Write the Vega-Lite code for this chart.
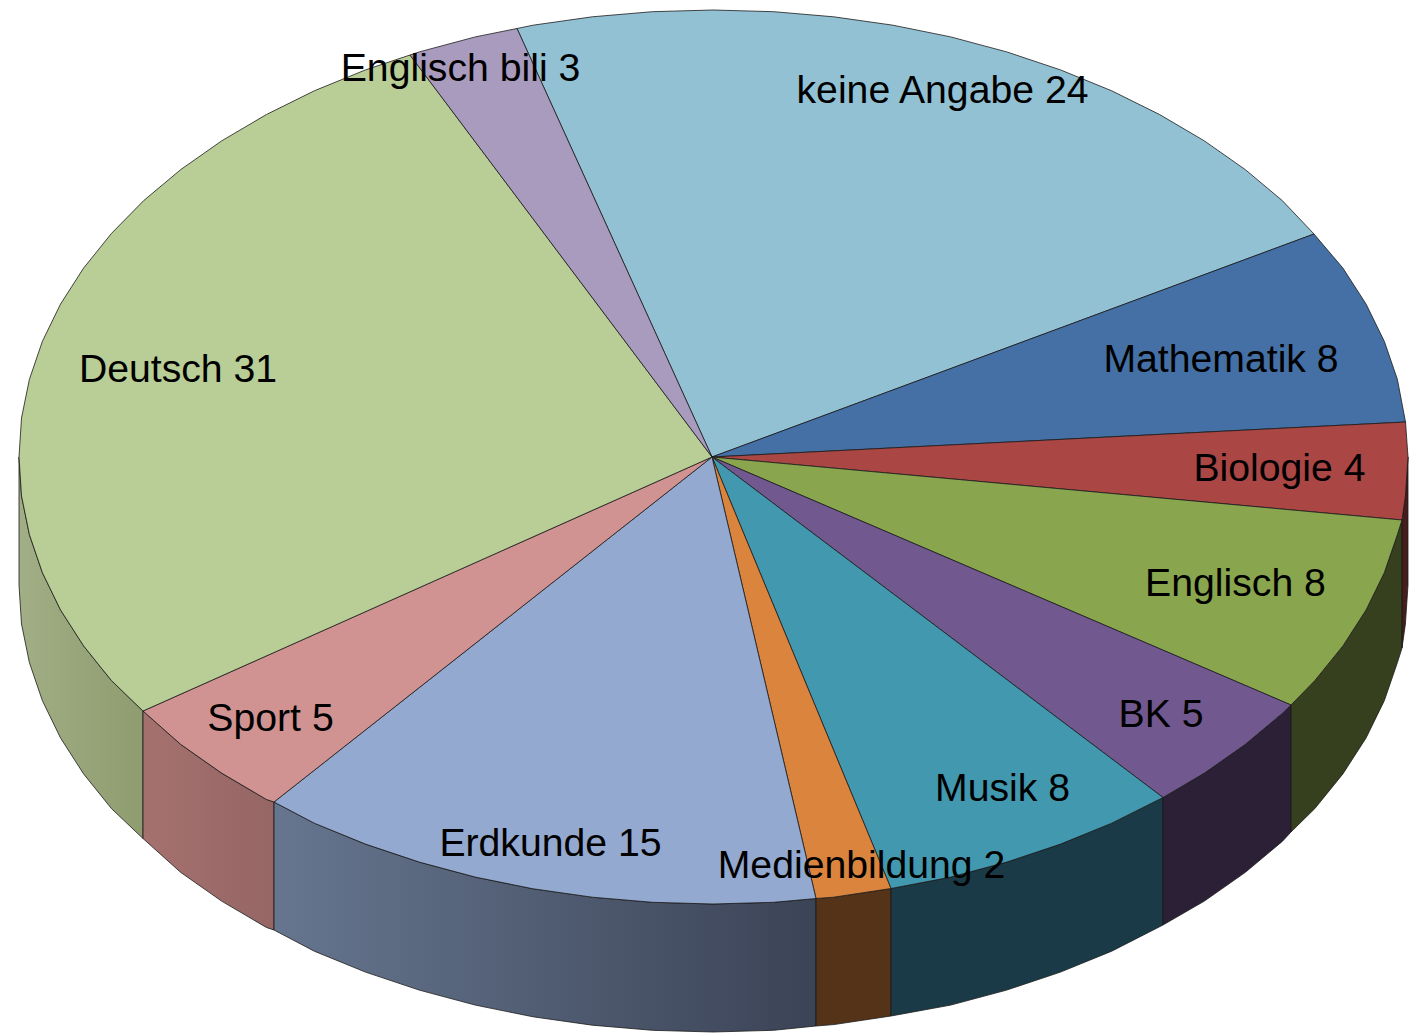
{"$schema":"https://vega.github.io/schema/vega-lite/v6.json","width":1416,"height":1033,"padding":0,"autosize":{"type":"none"},"background":"white","view":{"stroke":null},
"datasets":{
"wall":[
{"s":"Deutsch","x":19,"y":457,"y2":585},{"s":"Deutsch","x":21.5,"y":496,"y2":624},{"s":"Deutsch","x":29.4,"y":534.6,"y2":662.6},{"s":"Deutsch","x":42.4,"y":572.7,"y2":700.7},{"s":"Deutsch","x":60.5,"y":609.9,"y2":737.9},{"s":"Deutsch","x":83.6,"y":645.9,"y2":773.9},{"s":"Deutsch","x":111.4,"y":680.5,"y2":808.5},{"s":"Deutsch","x":143,"y":711,"y2":838.5},
{"s":"Sport","x":143,"y":711,"y2":838.5},{"s":"Sport","x":180.6,"y":744.3,"y2":872.3},{"s":"Sport","x":221.6,"y":773.1,"y2":901.1},{"s":"Sport","x":266.3,"y":799.4,"y2":927.4},{"s":"Sport","x":274,"y":802,"y2":930},
{"s":"Erdkunde","x":274,"y":802,"y2":930},{"s":"Erdkunde","x":314.3,"y":823.2,"y2":951.2},{"s":"Erdkunde","x":365.5,"y":844.1,"y2":972.1},{"s":"Erdkunde","x":419.3,"y":862.1,"y2":990.1},{"s":"Erdkunde","x":475.3,"y":877.1,"y2":1005.1},{"s":"Erdkunde","x":533.1,"y":888.8,"y2":1016.8},{"s":"Erdkunde","x":592.3,"y":897.2,"y2":1025.2},{"s":"Erdkunde","x":652.4,"y":902.3,"y2":1030.3},{"s":"Erdkunde","x":713,"y":904,"y2":1032},{"s":"Erdkunde","x":773.6,"y":902.3,"y2":1030.3},{"s":"Erdkunde","x":816,"y":898.5,"y2":1026},
{"s":"Medienbildung","x":816,"y":898.5,"y2":1026},{"s":"Medienbildung","x":833.7,"y":897.2,"y2":1024.6},{"s":"Medienbildung","x":891,"y":888.5,"y2":1016},
{"s":"Musik","x":891,"y":888.5,"y2":1016},{"s":"Musik","x":950.7,"y":877.1,"y2":1005.1},{"s":"Musik","x":1006.7,"y":862.1,"y2":990.1},{"s":"Musik","x":1060.5,"y":844.1,"y2":972.1},{"s":"Musik","x":1111.7,"y":823.2,"y2":951.2},{"s":"Musik","x":1163,"y":797.5,"y2":925},
{"s":"BK","x":1163,"y":797.5,"y2":925},{"s":"BK","x":1204.4,"y":773.1,"y2":901.1},{"s":"BK","x":1245.4,"y":744.3,"y2":872.3},{"s":"BK","x":1282.3,"y":713.4,"y2":841.4},{"s":"BK","x":1291,"y":705,"y2":832},
{"s":"Englisch","x":1291,"y":705,"y2":832},{"s":"Englisch","x":1314.9,"y":680.5,"y2":808.5},{"s":"Englisch","x":1342.9,"y":645.9,"y2":773.9},{"s":"Englisch","x":1366.1,"y":609.9,"y2":737.9},{"s":"Englisch","x":1384.3,"y":572.7,"y2":700.7},{"s":"Englisch","x":1397.4,"y":534.6,"y2":662.6},{"s":"Englisch","x":1402,"y":520,"y2":648},
{"s":"Biologie","x":1402,"y":520,"y2":648},{"s":"Biologie","x":1405.4,"y":496,"y2":624},{"s":"Biologie","x":1408,"y":457,"y2":585}
],
"top":[
{"s":"keine Angabe","i":0,"x":712,"y":457},{"s":"keine Angabe","i":1,"x":1314,"y":234},{"s":"keine Angabe","i":2,"x":1282.3,"y":200.6},{"s":"keine Angabe","i":3,"x":1245.4,"y":169.7},{"s":"keine Angabe","i":4,"x":1204.4,"y":140.9},{"s":"keine Angabe","i":5,"x":1159.7,"y":114.6},{"s":"keine Angabe","i":6,"x":1111.7,"y":90.8},{"s":"keine Angabe","i":7,"x":1060.5,"y":69.9},{"s":"keine Angabe","i":8,"x":1006.7,"y":51.9},{"s":"keine Angabe","i":9,"x":950.7,"y":36.9},{"s":"keine Angabe","i":10,"x":892.9,"y":25.2},{"s":"keine Angabe","i":11,"x":833.7,"y":16.8},{"s":"keine Angabe","i":12,"x":773.6,"y":11.7},{"s":"keine Angabe","i":13,"x":713,"y":10},{"s":"keine Angabe","i":14,"x":652.4,"y":11.7},{"s":"keine Angabe","i":15,"x":592.3,"y":16.8},{"s":"keine Angabe","i":16,"x":533.1,"y":25.2},{"s":"keine Angabe","i":17,"x":517,"y":28.5},{"s":"keine Angabe","i":18,"x":712,"y":457},
{"s":"Mathematik","i":0,"x":712,"y":457},{"s":"Mathematik","i":1,"x":1405.5,"y":422},{"s":"Mathematik","i":2,"x":1397.4,"y":379.4},{"s":"Mathematik","i":3,"x":1384.3,"y":341.3},{"s":"Mathematik","i":4,"x":1366.1,"y":304.1},{"s":"Mathematik","i":5,"x":1342.9,"y":268.1},{"s":"Mathematik","i":6,"x":1314,"y":234},{"s":"Mathematik","i":7,"x":712,"y":457},
{"s":"Biologie","i":0,"x":712,"y":457},{"s":"Biologie","i":1,"x":1402,"y":520},{"s":"Biologie","i":2,"x":1405.4,"y":496},{"s":"Biologie","i":3,"x":1408,"y":457},{"s":"Biologie","i":4,"x":1405.5,"y":422},{"s":"Biologie","i":5,"x":712,"y":457},
{"s":"Englisch","i":0,"x":712,"y":457},{"s":"Englisch","i":1,"x":1291,"y":705},{"s":"Englisch","i":2,"x":1314.9,"y":680.5},{"s":"Englisch","i":3,"x":1342.9,"y":645.9},{"s":"Englisch","i":4,"x":1366.1,"y":609.9},{"s":"Englisch","i":5,"x":1384.3,"y":572.7},{"s":"Englisch","i":6,"x":1397.4,"y":534.6},{"s":"Englisch","i":7,"x":1402,"y":520},{"s":"Englisch","i":8,"x":712,"y":457},
{"s":"BK","i":0,"x":712,"y":457},{"s":"BK","i":1,"x":1163,"y":797.5},{"s":"BK","i":2,"x":1204.4,"y":773.1},{"s":"BK","i":3,"x":1245.4,"y":744.3},{"s":"BK","i":4,"x":1282.3,"y":713.4},{"s":"BK","i":5,"x":1291,"y":705},{"s":"BK","i":6,"x":712,"y":457},
{"s":"Musik","i":0,"x":712,"y":457},{"s":"Musik","i":1,"x":891,"y":888.5},{"s":"Musik","i":2,"x":950.7,"y":877.1},{"s":"Musik","i":3,"x":1006.7,"y":862.1},{"s":"Musik","i":4,"x":1060.5,"y":844.1},{"s":"Musik","i":5,"x":1111.7,"y":823.2},{"s":"Musik","i":6,"x":1163,"y":797.5},{"s":"Musik","i":7,"x":712,"y":457},
{"s":"Medienbildung","i":0,"x":712,"y":457},{"s":"Medienbildung","i":1,"x":816,"y":898.5},{"s":"Medienbildung","i":2,"x":833.7,"y":897.2},{"s":"Medienbildung","i":3,"x":891,"y":888.5},{"s":"Medienbildung","i":4,"x":712,"y":457},
{"s":"Erdkunde","i":0,"x":712,"y":457},{"s":"Erdkunde","i":1,"x":274,"y":802},{"s":"Erdkunde","i":2,"x":314.3,"y":823.2},{"s":"Erdkunde","i":3,"x":365.5,"y":844.1},{"s":"Erdkunde","i":4,"x":419.3,"y":862.1},{"s":"Erdkunde","i":5,"x":475.3,"y":877.1},{"s":"Erdkunde","i":6,"x":533.1,"y":888.8},{"s":"Erdkunde","i":7,"x":592.3,"y":897.2},{"s":"Erdkunde","i":8,"x":652.4,"y":902.3},{"s":"Erdkunde","i":9,"x":713,"y":904},{"s":"Erdkunde","i":10,"x":773.6,"y":902.3},{"s":"Erdkunde","i":11,"x":816,"y":898.5},{"s":"Erdkunde","i":12,"x":712,"y":457},
{"s":"Sport","i":0,"x":712,"y":457},{"s":"Sport","i":1,"x":143,"y":711},{"s":"Sport","i":2,"x":180.6,"y":744.3},{"s":"Sport","i":3,"x":221.6,"y":773.1},{"s":"Sport","i":4,"x":266.3,"y":799.4},{"s":"Sport","i":5,"x":274,"y":802},{"s":"Sport","i":6,"x":712,"y":457},
{"s":"Deutsch","i":0,"x":712,"y":457},{"s":"Deutsch","i":1,"x":143,"y":711},{"s":"Deutsch","i":2,"x":111.4,"y":680.5},{"s":"Deutsch","i":3,"x":83.6,"y":645.9},{"s":"Deutsch","i":4,"x":60.5,"y":609.9},{"s":"Deutsch","i":5,"x":42.4,"y":572.7},{"s":"Deutsch","i":6,"x":29.4,"y":534.6},{"s":"Deutsch","i":7,"x":21.5,"y":496},{"s":"Deutsch","i":8,"x":19,"y":457},{"s":"Deutsch","i":9,"x":21.5,"y":418},{"s":"Deutsch","i":10,"x":29.4,"y":379.4},{"s":"Deutsch","i":11,"x":42.4,"y":341.3},{"s":"Deutsch","i":12,"x":60.5,"y":304.1},{"s":"Deutsch","i":13,"x":83.6,"y":268.1},{"s":"Deutsch","i":14,"x":111.4,"y":233.5},{"s":"Deutsch","i":15,"x":143.7,"y":200.6},{"s":"Deutsch","i":16,"x":180.6,"y":169.7},{"s":"Deutsch","i":17,"x":221.6,"y":140.9},{"s":"Deutsch","i":18,"x":266.3,"y":114.6},{"s":"Deutsch","i":19,"x":314.3,"y":90.8},{"s":"Deutsch","i":20,"x":365.5,"y":69.9},{"s":"Deutsch","i":21,"x":410,"y":55},{"s":"Deutsch","i":22,"x":712,"y":457},
{"s":"Englisch bili","i":0,"x":712,"y":457},{"s":"Englisch bili","i":1,"x":410,"y":55},{"s":"Englisch bili","i":2,"x":419.3,"y":51.9},{"s":"Englisch bili","i":3,"x":475.3,"y":36.9},{"s":"Englisch bili","i":4,"x":517,"y":28.5},{"s":"Englisch bili","i":5,"x":712,"y":457}
],
"labels":[
{"t":"keine Angabe 24","x":942.5,"y":91},{"t":"Mathematik 8","x":1221,"y":360},{"t":"Biologie 4","x":1279.5,"y":469},{"t":"Englisch 8","x":1235.5,"y":584},{"t":"BK 5","x":1161,"y":715},{"t":"Musik 8","x":1002.5,"y":789},{"t":"Medienbildung 2","x":861.5,"y":866},{"t":"Erdkunde 15","x":550.5,"y":844},{"t":"Sport 5","x":270.5,"y":719},{"t":"Deutsch 31","x":178,"y":370},{"t":"Englisch bili 3","x":460.5,"y":69}
]},
"encoding":{
"x":{"field":"x","type":"quantitative","scale":{"domain":[0,1416],"nice":false,"zero":false},"axis":null},
"y":{"field":"y","type":"quantitative","scale":{"domain":[1033,0],"nice":false,"zero":false},"axis":null}
},
"layer":[
{"data":{"name":"wall"},"transform":[{"filter":"datum.s==='Deutsch'"}],
"mark":{"type":"area","orient":"vertical","stroke":"#1a1a1a","strokeWidth":0.8,"fill":{"gradient":"linear","x1":0,"x2":1,"y1":0,"y2":0,"stops":[{"offset":0,"color":"#a2ae85"},{"offset":1,"color":"#8e9c6f"}]}},
"encoding":{"y2":{"field":"y2"}}},
{"data":{"name":"wall"},"transform":[{"filter":"datum.s==='Sport'"}],
"mark":{"type":"area","orient":"vertical","stroke":"#1a1a1a","strokeWidth":0.8,"fill":{"gradient":"linear","x1":0,"x2":1,"y1":0,"y2":0,"stops":[{"offset":0,"color":"#a5716f"},{"offset":1,"color":"#956664"}]}},
"encoding":{"y2":{"field":"y2"}}},
{"data":{"name":"wall"},"transform":[{"filter":"datum.s==='Erdkunde'"}],
"mark":{"type":"area","orient":"vertical","stroke":"#1a1a1a","strokeWidth":0.8,"fill":{"gradient":"linear","x1":0,"x2":1,"y1":0,"y2":0,"stops":[{"offset":0,"color":"#66768f"},{"offset":1,"color":"#3b4356"}]}},
"encoding":{"y2":{"field":"y2"}}},
{"data":{"name":"wall"},"transform":[{"filter":"datum.s!=='Erdkunde'&&datum.s!=='Sport'&&datum.s!=='Deutsch'"}],
"mark":{"type":"area","orient":"vertical","stroke":"#1a1a1a","strokeWidth":0.8},
"encoding":{"y2":{"field":"y2"},"fill":{"field":"s","type":"nominal","legend":null,"scale":{"domain":["Medienbildung","Musik","BK","Englisch","Biologie"],"range":["#553319","#193a46","#2b2035","#363f1e","#451d1c"]}}}},
{"data":{"name":"top"},
"mark":{"type":"line","stroke":"#1a1a1a","strokeWidth":0.8,"strokeJoin":"round"},
"encoding":{"order":{"field":"i","type":"quantitative"},"detail":{"field":"s"},"fill":{"field":"s","type":"nominal","legend":null,"scale":{"domain":["keine Angabe","Mathematik","Biologie","Englisch","BK","Musik","Medienbildung","Erdkunde","Sport","Deutsch","Englisch bili"],"range":["#92c1d4","#4470a5","#aa4644","#89a54e","#71588f","#4198af","#db843d","#93a9cf","#d19392","#b9cd96","#a99bbd"]}}}},
{"data":{"name":"labels"},
"mark":{"type":"text","font":"Liberation Sans","fontSize":39.2,"align":"center","baseline":"middle","color":"#000"},
"encoding":{"text":{"field":"t"}}}
],
"resolve":{"scale":{"fill":"independent"}}
}
